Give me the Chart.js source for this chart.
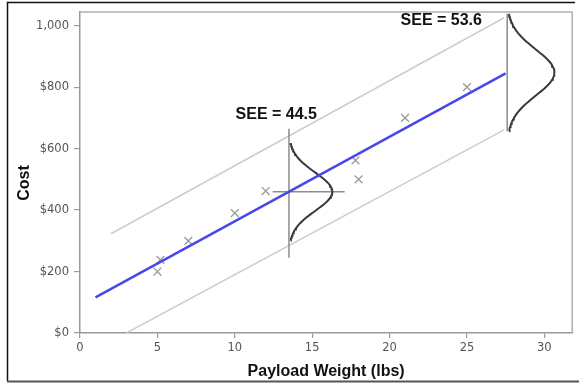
<!DOCTYPE html>
<html>
<head>
<meta charset="utf-8">
<script src="https://cdn.jsdelivr.net/npm/chart.js@4/dist/chart.umd.min.js"></script>
<style>
  html, body { margin: 0; padding: 0; background: #fff; }
  #wrap { width: 579px; height: 383px; }
</style>
</head>
<body>
<div id="wrap"><canvas id="c" width="579" height="383"></canvas></div>
<script>
// Observed launches: payload weight (lbs) against cost
const weightLbs = [5, 5.2, 7, 10, 12, 17.8, 18, 21, 25];
const costUsd   = [200, 238, 300, 390, 462, 562, 500, 700, 800];

// Fitted regression line (endpoints)
const fitX = [1, 27.5];
const fitY = [116, 845];

// Prediction band edges
const upperX = [2, 27.4];
const upperY = [323, 1026];
const lowerX = [3, 27.4];
const lowerY = [0, 661];

// Standard error of estimate at two payload weights
const seeX = [13.5, 27.6];
const seeValues = [44.5, 53.6];
const seeLabels = ['SEE = 44.5', 'SEE = 53.6'];

// Axis ticks
const xTickValues = [0, 5, 10, 15, 20, 25, 30];
const yTickValues = [0, 200, 400, 600, 800, 1000];
const yTickLabels = ['$0', '$200', '$400', '$600', '$800', '1,000'];

const toPts = (xs, ys) => xs.map((x, i) => ({ x: x, y: ys[i] }));
const fitAt = x => fitY[0] + (fitY[1] - fitY[0]) * (x - fitX[0]) / (fitX[1] - fitX[0]);

// Normal curves laid sideways on the fitted line, spread set by the SEE
const SPREAD = 1.4;             // drawing spread per unit of SEE
const bellHeight = [2.8, 3.05]; // sideways height in lbs
const bellReach = 2.55;         // curve drawn to +/- this many spreads
function bellPoints(k) {
  const c = fitAt(seeX[k]);
  const s = seeValues[k] * SPREAD;
  const pts = [];
  const n = 80;
  for (let i = 0; i <= n; i++) {
    const y = c - bellReach * s + (2 * bellReach * s) * i / n;
    const z = (y - c) / s;
    pts.push({ x: seeX[k] + bellHeight[k] * Math.exp(-0.5 * z * z), y: y });
  }
  return pts;
}
const c1 = fitAt(seeX[0]);
const c2 = fitAt(seeX[1]);
const s2 = seeValues[1] * SPREAD;

const lineDs = (data, color, width) => ({
  data: data, showLine: true, borderColor: color, backgroundColor: color,
  borderWidth: width, pointRadius: 0, fill: false, tension: 0
});

const datasets = [
  lineDs(toPts(fitX, fitY), '#4848ea', 2.5),
  lineDs(bellPoints(0), '#3a3a3a', 2),
  lineDs(bellPoints(1), '#3a3a3a', 2),
  {
    data: toPts(weightLbs, costUsd), showLine: false,
    pointStyle: 'crossRot', pointRadius: 5.5, pointHoverRadius: 5.5,
    borderColor: '#9a9a9a', backgroundColor: '#9a9a9a', pointBorderWidth: 1.3
  },
  lineDs([{ x: seeX[0], y: 245 }, { x: seeX[0], y: 665 }], '#8c8c8c', 1.5),
  lineDs([{ x: 12.45, y: c1 }, { x: 17.1, y: c1 }], '#8c8c8c', 1.5),
  lineDs([{ x: seeX[1], y: c2 - bellReach * s2 }, { x: seeX[1], y: c2 + bellReach * s2 }], '#8c8c8c', 1.5),
  lineDs(toPts(upperX, upperY), '#cdcdcd', 1.5),
  lineDs(toPts(lowerX, lowerY), '#cdcdcd', 1.5)
];

const frame = {
  id: 'frame',
  beforeDraw(chart) {
    const ctx = chart.ctx;
    ctx.save();
    ctx.fillStyle = '#fff';
    ctx.fillRect(0, 0, chart.width, chart.height);
    ctx.restore();
  },
  afterDraw(chart) {
    const ctx = chart.ctx;
    const a = chart.chartArea;
    const xs = chart.scales.x, ys = chart.scales.y;
    ctx.save();
    // top and right edges of the plot box
    ctx.strokeStyle = '#b0b0b0';
    ctx.lineWidth = 1.5;
    ctx.beginPath();
    ctx.moveTo(a.left, a.top);
    ctx.lineTo(a.right, a.top);
    ctx.lineTo(a.right, a.bottom);
    ctx.stroke();

    // SEE labels
    ctx.fillStyle = '#111';
    ctx.font = 'bold 16px "Liberation Sans", Arial, sans-serif';
    ctx.textAlign = 'center';
    ctx.textBaseline = 'middle';
    ctx.fillText(seeLabels[0], xs.getPixelForValue(12.68), ys.getPixelForValue(710));
    ctx.fillText(seeLabels[1], xs.getPixelForValue(23.34), ys.getPixelForValue(1016));

    // axis titles
    ctx.fillText('Payload Weight (lbs)', (a.left + a.right) / 2, 372);
    ctx.save();
    ctx.translate(25, 183);
    ctx.rotate(-Math.PI / 2);
    ctx.fillText('Cost', 0, 0);
    ctx.restore();

    // outer frame
    ctx.strokeStyle = '#111';
    ctx.lineWidth = 1.5;
    ctx.beginPath();
    ctx.moveTo(575, 2.5);
    ctx.lineTo(7.5, 2.5);
    ctx.lineTo(7.5, 381);
    ctx.stroke();
    ctx.strokeStyle = '#555';
    ctx.lineWidth = 2;
    ctx.beginPath();
    ctx.moveTo(7, 381.5);
    ctx.lineTo(579, 381.5);
    ctx.stroke();
    ctx.restore();
  }
};

const tickFont = { family: '"DejaVu Sans", Verdana, sans-serif', size: 11.5 };

new Chart(document.getElementById('c'), {
  type: 'scatter',
  data: { datasets: datasets },
  plugins: [frame],
  options: {
    responsive: false,
    devicePixelRatio: 1,
    animation: false,
    events: [],
    layout: { padding: { left: 0, top: 9, right: 5, bottom: 0 } },
    plugins: { legend: { display: false }, tooltip: { enabled: false } },
    scales: {
      x: {
        type: 'linear', min: 0, max: 31.8,
        afterBuildTicks: s => { s.ticks = xTickValues.map(v => ({ value: v })); },
        afterFit: s => { s.height = 50; },
        ticks: { color: '#555', font: tickFont, padding: 3, maxRotation: 0,
                 callback: v => String(v) },
        grid: { drawOnChartArea: false, drawTicks: true, tickLength: 5, color: '#999', lineWidth: 1.2 },
        border: { display: true, color: '#999', width: 1.5 }
      },
      y: {
        type: 'linear', min: 0, max: 1045,
        afterBuildTicks: s => { s.ticks = yTickValues.map(v => ({ value: v })); },
        afterFit: s => { s.width = 80; },
        ticks: { color: '#555', font: tickFont, padding: 5,
                 callback: v => yTickLabels[yTickValues.indexOf(v)] },
        grid: { drawOnChartArea: false, drawTicks: true, tickLength: 6, color: '#999', lineWidth: 1.2 },
        border: { display: true, color: '#999', width: 1.5 }
      }
    }
  }
});
</script>
</body>
</html>
